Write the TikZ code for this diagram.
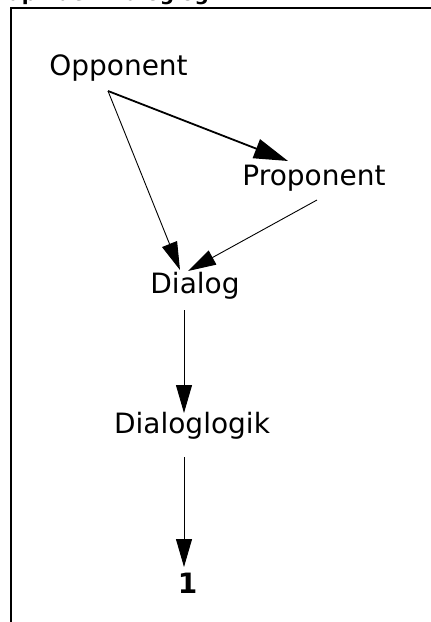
\documentclass[tikz,border=0pt]{standalone}
\usepackage{fontspec}
\setmainfont{DejaVu Sans}
\usetikzlibrary{arrows.meta}
\tikzset{
  lbl/.style={font=\fontsize{28}{30}\selectfont, inner sep=0pt, anchor=base},
  thinarrow/.style={line width=0.9pt, -{Triangle[length=28pt,width=16pt]}},
  thickarrow/.style={line width=1.8pt, -{Triangle[length=34pt,width=20pt]}},
  frameline/.style={line width=2pt}
}
\begin{document}
\begin{tikzpicture}[x=1pt,y=-1pt]
\useasboundingbox (0,0) rectangle (431,622);
\clip (0,0) rectangle (431,622);
% clipped title
\node[font=\bfseries\fontsize{20}{22}\selectfont, inner sep=0pt, anchor=base west] (title) at (-18,0) {Graph der Dialoglogik};
% frame
\draw[frameline] (11,630) -- (11,8) -- (440,8);
% nodes
\node[lbl] (opp) at (118.5,75) {Opponent};
\node[lbl] (prop) at (314,185) {Proponent};
\node[lbl] (dia) at (195,293) {Dialog};
\node[lbl] (dlog) at (192,433) {Dialoglogik};
\node[lbl, font=\bfseries\fontsize{28}{30}\selectfont] (one) at (187.5,593) {1};
% connector ends
\coordinate (oS) at (108,91);
\coordinate (pE) at (288,161);
\coordinate (dN1) at (180,270);
\coordinate (pS) at (317,200);
\coordinate (dN2) at (188,271);
\coordinate (dS) at (184,310);
\coordinate (lN) at (184,413);
\coordinate (lS) at (184,457);
\coordinate (oneN) at (184,567);
% connectors
\draw[thickarrow] (oS) -- (pE);
\draw[thinarrow] (oS) -- (dN1);
\draw[thinarrow] (pS) -- (dN2);
\draw[thinarrow] (dS) -- (lN);
\draw[thinarrow] (lS) -- (oneN);
\end{tikzpicture}
\end{document}
